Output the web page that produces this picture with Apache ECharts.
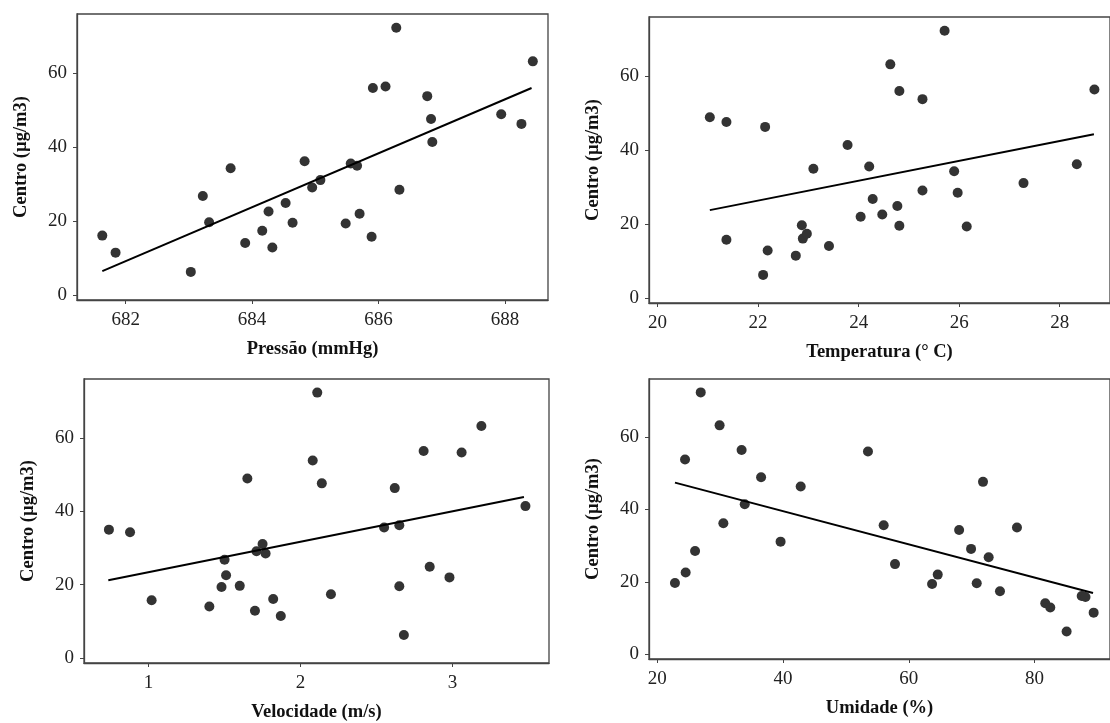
<!DOCTYPE html>
<html>
<head>
<meta charset="utf-8">
<script src="https://cdn.jsdelivr.net/npm/echarts@6/dist/echarts.min.js"></script>
<style>
  html, body { margin: 0; padding: 0; background: #fff; }
  #chart { width: 1110px; height: 723px; }
</style>
</head>
<body>
<div id="chart"></div>
<script>
// 30 observations, same order in every array
const centro = [16.1, 11.5, 6.3, 26.8, 19.7, 34.3, 14.1, 17.4, 22.6, 12.9, 24.9, 19.6, 36.2, 29.1, 31.1,
  19.4, 35.6, 35.0, 22.0, 15.8, 56.0, 56.4, 72.3, 28.5, 53.8, 47.6, 41.4, 48.9, 46.3, 63.2]
const pressao = [681.63, 681.84, 683.03, 683.22, 683.32, 683.66, 683.89, 684.16, 684.26, 684.32, 684.53, 684.64,
  684.83, 684.95, 685.08, 685.48, 685.56, 685.66, 685.70, 685.89, 685.91, 686.11, 686.28, 686.33, 686.77,
  686.83, 686.85, 687.94, 688.26, 688.44]
const temperatura = [22.89, 22.75, 22.10, 24.28, 22.87, 25.90, 23.41, 22.97, 24.47, 22.19, 24.77, 24.81, 28.34,
  25.27, 27.28, 26.15, 24.21, 23.10, 24.04, 21.37, 24.81, 28.69, 25.71, 25.97, 25.27, 21.37, 23.78, 21.04,
  22.14, 24.63]
const velocidade = [1.82, 1.87, 2.68, 1.50, 1.60, 0.878, 1.40, 2.20, 1.51, 1.70, 2.85, 2.65, 2.65, 1.71, 1.75,
  1.48, 2.55, 0.739, 2.98, 1.02, 3.06, 2.81, 2.11, 1.77, 2.08, 2.14, 3.48, 1.65, 2.62, 3.19]
const umidade = [87.5, 89.4, 85.1, 72.7, 22.8, 68.0, 81.7, 74.5, 24.5, 82.5, 57.8, 70.8, 30.5, 69.9, 39.6,
  63.7, 56.0, 77.2, 64.6, 88.1, 53.5, 33.4, 26.9, 26.0, 24.4, 71.8, 33.9, 36.5, 42.8, 29.9]

// fitted line end points
const fitPressao = [[681.63, 6.5], [688.42, 56.0]]
const fitTemperatura = [[21.04, 23.8], [28.68, 44.3]]
const fitVelocidade = [[0.735, 21.2], [3.47, 43.9]]
const fitUmidade = [[22.8, 47.4], [89.3, 16.9]]

// tick labels
const yTicks = [0, 20, 40, 60]
const pressaoTicks = [682, 684, 686, 688]
const temperaturaTicks = [20, 22, 24, 26, 28]
const velocidadeTicks = [1, 2, 3]
const umidadeTicks = [20, 40, 60, 80]

const panels = [
  { name: 'Pressão (mmHg)', x: pressao, fit: fitPressao, ticks: pressaoTicks, min: 681.23, max: 688.68,
    grid: { left: 77, top: 14, width: 471, height: 286 } },
  { name: 'Temperatura (° C)', x: temperatura, fit: fitTemperatura, ticks: temperaturaTicks, min: 19.83, max: 29.0,
    grid: { left: 649, top: 17, width: 474, height: 286 } },
  { name: 'Velocidade (m/s)', x: velocidade, fit: fitVelocidade, ticks: velocidadeTicks, min: 0.575, max: 3.635,
    grid: { left: 84, top: 379, width: 465, height: 287 } },
  { name: 'Umidade (%)', x: umidade, fit: fitUmidade, ticks: umidadeTicks, min: 18.67, max: 92,
    grid: { left: 649, top: 379, width: 475, height: 280 } }
]

const font = "'Liberation Serif', 'Times New Roman', serif"
const ink = '#333'

const chart = echarts.init(document.getElementById('chart'))

chart.setOption({
  animation: false,
  textStyle: { fontFamily: font },
  grid: panels.map(p => ({
    ...p.grid,
    show: true,
    borderColor: '#444',
    borderWidth: 1.3,
    backgroundColor: '#fff'
  })),
  xAxis: panels.map((p, i) => ({
    type: 'value',
    gridIndex: i,
    min: p.min,
    max: p.max,
    name: p.name,
    nameLocation: 'middle',
    nameGap: 40,
    nameTextStyle: { fontFamily: font, fontSize: 18.5, fontWeight: 'bold', color: '#111' },
    axisLine: { show: true, onZero: false, lineStyle: { color: '#444', width: 1.3 } },
    axisTick: { show: true, length: 4, customValues: p.ticks, lineStyle: { color: '#444' } },
    axisLabel: { customValues: p.ticks, margin: 11, fontFamily: font, fontSize: 19, color: '#222' },
    splitLine: { show: false }
  })),
  yAxis: panels.map((p, i) => ({
    type: 'value',
    gridIndex: i,
    min: -1.3,
    max: 76,
    name: 'Centro (µg/m3)',
    nameLocation: 'middle',
    nameGap: 46,
    nameTextStyle: { fontFamily: font, fontSize: 18.5, fontWeight: 'bold', color: '#111' },
    axisLine: { show: true, onZero: false, lineStyle: { color: '#444', width: 1.3 } },
    axisTick: { show: true, length: 4, customValues: yTicks, lineStyle: { color: '#444' } },
    axisLabel: { customValues: yTicks, margin: 10, fontFamily: font, fontSize: 19, color: '#222' },
    splitLine: { show: false }
  })),
  series: panels.flatMap((p, i) => [
    {
      type: 'scatter',
      xAxisIndex: i,
      yAxisIndex: i,
      data: p.x.map((v, k) => [v, centro[k]]),
      symbolSize: 10,
      itemStyle: { color: ink, opacity: 1 }
    },
    {
      type: 'line',
      xAxisIndex: i,
      yAxisIndex: i,
      data: p.fit,
      showSymbol: false,
      lineStyle: { color: '#000', width: 2 }
    }
  ])
})

window.addEventListener('resize', () => chart.resize())
</script>
</body>
</html>
